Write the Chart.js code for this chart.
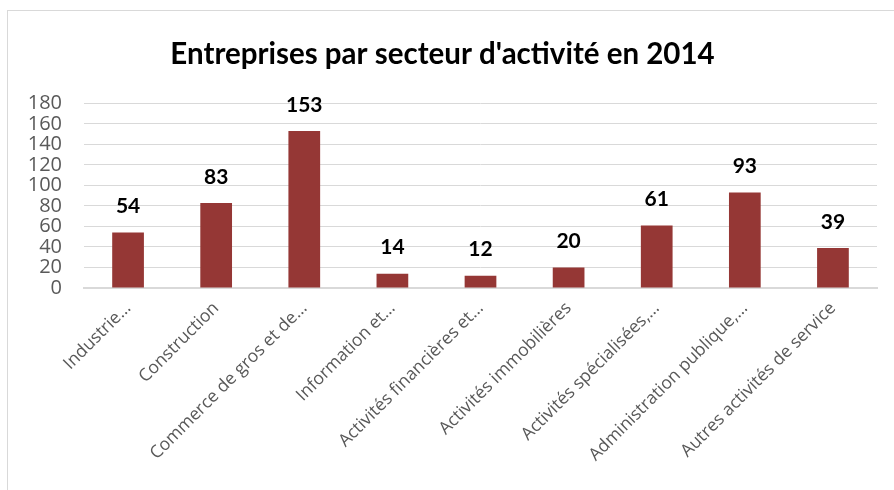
<!DOCTYPE html>
<html>
<head>
<meta charset="utf-8">
<script src="https://cdn.jsdelivr.net/npm/chart.js@4.4.1/dist/chart.umd.min.js"></script>
<style>
  html, body { margin: 0; padding: 0; background: #fff; overflow: hidden; }
  #frame { position: absolute; left: 7px; top: 10px; width: 1000px; height: 600px; border: 1px solid #d9d9d9; }
  #wrap { position: absolute; left: 0; top: 0; width: 894px; height: 490px; }
</style>
</head>
<body>
<div id="frame"></div>
<div id="wrap"><canvas id="myChart" width="894" height="490"></canvas></div>
<script>
"use strict";

// categories, as shown (truncated) in the original
var sectors = [
  "Industrie…",
  "Construction",
  "Commerce de gros et de…",
  "Information et…",
  "Activités financières et…",
  "Activités immobilières",
  "Activités spécialisées,…",
  "Administration publique,…",
  "Autres activités de service"
];
var companies = [54, 83, 153, 14, 12, 20, 61, 93, 39];
var yTicks = [0, 20, 40, 60, 80, 100, 120, 140, 160, 180];

// value labels above the bars
var barLabels = {
  id: "barLabels",
  afterDatasetsDraw: function (chart) {
    var ctx = chart.ctx;
    var meta = chart.getDatasetMeta(0);
    ctx.save();
    ctx.font = "bold 21px Lato";
    ctx.fillStyle = "#000";
    ctx.textAlign = "center";
    ctx.textBaseline = "middle";
    meta.data.forEach(function (bar, i) {
      ctx.fillText(String(companies[i]), bar.x, bar.y - 26);
    });
    ctx.restore();
  }
};

new Chart(document.getElementById("myChart"), {
  type: "bar",
  data: {
    labels: sectors,
    datasets: [
      {
        label: "Entreprises",
        data: companies,
        backgroundColor: "#953735",
        categoryPercentage: 1,
        barPercentage: 0.36
      }
    ]
  },
  options: {
    responsive: false,
    animation: false,
    layout: { padding: { left: 8, right: 17, top: 0, bottom: 0 } },
    plugins: {
      legend: { display: false },
      tooltip: { enabled: false },
      title: {
        display: true,
        text: "Entreprises par secteur d'activité en 2014",
        color: "#000",
        font: { family: "Lato", size: 29.5, weight: "bold" },
        padding: { top: 37, bottom: 31 }
      }
    },
    scales: {
      y: {
        min: 0,
        max: 180,
        afterBuildTicks: function (scale) {
          scale.ticks = yTicks.map(function (v) { return { value: v }; });
        },
        afterFit: function (scale) { scale.width = 76; },
        border: { display: false },
        grid: { color: "#d9d9d9", drawTicks: false },
        ticks: {
          autoSkip: false,
          color: "#595959",
          padding: 22,
          font: { family: "'Open Sans', sans-serif", size: 20 }
        }
      },
      x: {
        afterFit: function (scale) { scale.height = 202; },
        border: { display: true, color: "#d9d9d9", width: 2 },
        grid: { display: false, drawTicks: false },
        ticks: {
          color: "#595959",
          maxRotation: 45,
          minRotation: 45,
          autoSkip: false,
          padding: 10,
          font: { family: "'Open Sans', sans-serif", size: 17.5 }
        }
      }
    }
  },
  plugins: [barLabels]
});
</script>
</body>
</html>
